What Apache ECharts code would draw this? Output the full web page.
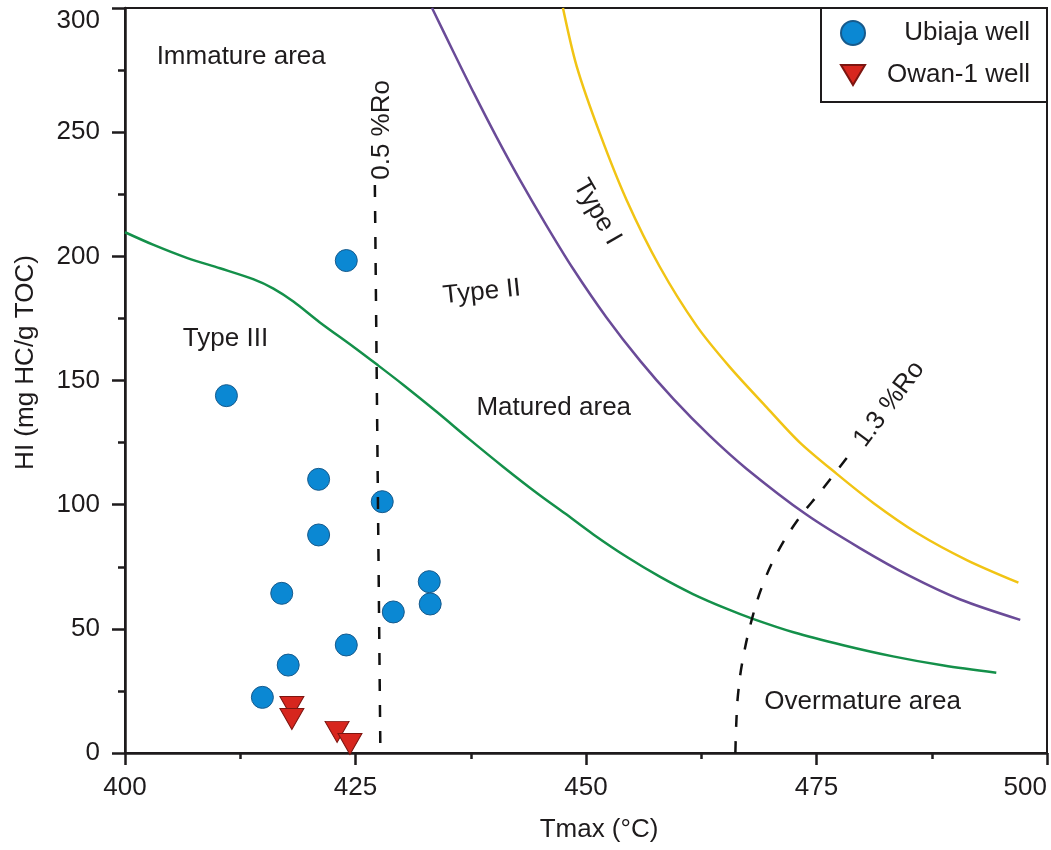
<!DOCTYPE html>
<html>
<head>
<meta charset="utf-8">
<script src="https://cdn.jsdelivr.net/npm/echarts@6/dist/echarts.min.js"></script>
<style>
html,body{margin:0;padding:0;background:#fff;}
#chart{width:1051px;height:850px;}
</style>
</head>
<body>
<div id="chart"></div>
<script>
// ---- Data ----
var xTicks = [400, 425, 450, 475, 500];
var yTicks = [0, 50, 100, 150, 200, 250, 300];

var ubiajaWell = [
  [424.0, 198.3], [411.0, 143.9], [421.0, 110.2], [427.9, 101.2],
  [421.0, 87.8], [417.0, 64.3], [433.0, 69.0], [433.1, 60.0],
  [429.1, 56.8], [424.0, 43.5], [417.7, 35.4], [414.9, 22.4]
];
var owanWell = [
  [418.1, 18.5], [418.1, 13.7], [423.0, 8.5], [424.4, 3.6]
];

// Type III / maturity boundary (green)
var greenCurve = [
  [400.0, 209.7], [403.1, 204.6], [406.7, 199.4], [410.3, 195.2], [413.9, 190.8],
  [416.1, 187.0], [418.3, 181.7], [421.1, 173.5], [424.8, 163.5], [427.3, 156.5],
  [430.2, 148.2], [433.8, 137.4], [437.4, 126.2], [441.0, 115.3], [444.7, 104.6],
  [447.7, 96.5], [450.8, 88.0], [454.4, 79.0], [458.0, 71.0], [461.6, 64.0],
  [465.3, 58.0], [468.1, 54.0], [472.5, 48.6], [477.9, 43.4], [483.3, 38.9],
  [488.8, 35.2], [494.5, 32.3]
];
// Type II / Type I boundary (purple)
var purpleCurve = [
  [433.3, 300.0], [435.6, 282.5], [437.8, 266.0], [440.3, 248.0], [442.8, 231.0],
  [445.7, 212.5], [448.6, 195.0], [452.2, 175.5], [455.9, 157.8], [459.5, 142.5],
  [463.4, 127.8], [467.4, 114.5], [473.9, 96.0], [479.7, 82.5], [485.1, 71.3],
  [490.6, 61.8], [497.1, 53.6]
];
// Type I (yellow)
var yellowCurve = [
  [447.5, 300.0], [449.0, 276.4], [451.5, 249.5], [454.4, 222.7], [458.0, 195.8],
  [462.0, 172.0], [465.6, 155.4], [469.6, 139.2], [473.2, 125.0], [477.2, 112.4],
  [481.2, 100.6], [485.9, 88.6], [491.3, 77.7], [496.9, 68.6]
];
// 0.5 %Ro (dashed)
var ro05 = [[427.1, 228.7], [427.7, 0]];
// 1.3 %Ro (dashed)
var ro13 = [
  [466.2, 0], [466.3, 12], [466.5, 24], [467.0, 37.5], [468.0, 54.0],
  [469.2, 68.0], [470.8, 81.0], [473.0, 94.0], [475.6, 106.0], [478.8, 121.3]
];

// Annotations: [x, y, text, rotation in degrees]
var annotations = [
  [412.6, 280.3, 'Immature area', 0],
  [410.9, 166.7, 'Type III', 0],
  [438.7, 185.6, 'Type II', 6],
  [451.2, 217.9, 'Type I', -60],
  [446.5, 139.0, 'Matured area', 0],
  [480.0, 20.5, 'Overmature area', 0],
  [427.9, 250.9, '0.5 %Ro', 90],
  [482.9, 140.5, '1.3 %Ro', 53]
];

// ---- Chart ----
var FONT = '"Liberation Sans", Arial, Helvetica, sans-serif';
var TXT = '#1e1b1c';
var chart = echarts.init(document.getElementById('chart'));

chart.setOption({
  animation: false,
  backgroundColor: '#fff',
  textStyle: { fontFamily: FONT, color: TXT },
  grid: {
    left: 125, right: 4, top: 8, bottom: 97,
    show: true, borderColor: TXT, borderWidth: 2, backgroundColor: 'transparent'
  },
  legend: {
    data: [
      { name: 'Ubiaja well', icon: 'circle' },
      { name: 'Owan-1 well', icon: 'path://M0,0 L24,0 L12,20 Z' }
    ],
    orient: 'vertical',
    right: 4, top: 8,
    padding: [12, 17, 14, 19],
    itemGap: 16,
    itemWidth: 24, itemHeight: 24,
    borderColor: TXT, borderWidth: 2,
    backgroundColor: '#fff',
    selectedMode: false,
    formatter: function (n) { return '{t|' + n + '}'; },
    textStyle: {
      fontFamily: FONT, fontSize: 26, color: TXT,
      rich: { t: { width: 160, align: 'right', fontSize: 26, fontFamily: FONT, color: TXT } }
    }
  },
  xAxis: {
    type: 'value', min: xTicks[0], max: xTicks[xTicks.length - 1], interval: 25,
    name: 'Tmax (°C)', nameLocation: 'middle', nameGap: 64,
    nameTextStyle: { fontSize: 26, color: TXT, fontFamily: FONT, padding: [0, 0, 0, 26] },
    axisLine: { show: true, onZero: false, lineStyle: { color: TXT, width: 2.5 } },
    axisTick: { show: true, length: 12, lineStyle: { color: TXT, width: 2.5 } },
    minorTick: { show: true, splitNumber: 2, length: 6, lineStyle: { color: TXT, width: 2.5 } },
    axisLabel: { fontSize: 26, color: TXT, margin: 22, fontFamily: FONT, alignMaxLabel: 'right' },
    splitLine: { show: false }
  },
  yAxis: {
    type: 'value', min: yTicks[0], max: yTicks[yTicks.length - 1], interval: 50,
    name: 'HI (mg HC/g TOC)', nameLocation: 'middle', nameGap: 86,
    nameTextStyle: { fontSize: 26, color: TXT, fontFamily: FONT, padding: [0, 0, 0, 36] },
    axisLine: { show: true, onZero: false, lineStyle: { color: TXT, width: 2.5 } },
    axisTick: { show: true, length: 13, lineStyle: { color: TXT, width: 2.5 } },
    minorTick: { show: true, splitNumber: 2, length: 7, lineStyle: { color: TXT, width: 2.5 } },
    axisLabel: { fontSize: 26, color: TXT, margin: 25, fontFamily: FONT, verticalAlignMaxLabel: 'top' },
    splitLine: { show: false }
  },
  series: [
    {
      name: 'green', type: 'line', data: greenCurve, smooth: 0.3, showSymbol: false,
      lineStyle: { color: '#14904a', width: 2.5 }, silent: true, z: 1
    },
    {
      name: 'purple', type: 'line', data: purpleCurve, smooth: 0.3, showSymbol: false,
      lineStyle: { color: '#6a4b98', width: 2.5 }, silent: true, z: 1
    },
    {
      name: 'yellow', type: 'line', data: yellowCurve, smooth: 0.3, showSymbol: false,
      lineStyle: { color: '#f1c414', width: 2.5 }, silent: true, z: 1
    },
    {
      name: 'Ubiaja well', type: 'scatter', data: ubiajaWell, symbol: 'circle', symbolSize: 22,
      itemStyle: { color: '#0b88d3', borderColor: '#175a8c', borderWidth: 1, opacity: 1 }, z: 2
    },
    {
      name: 'Owan-1 well', type: 'scatter', data: owanWell, symbol: 'triangle',
      symbolSize: [24, 21], symbolRotate: 180,
      itemStyle: { color: '#d7261e', borderColor: '#7d1510', borderWidth: 1, opacity: 1 }, z: 2
    },
    {
      name: 'ro05', type: 'line', data: ro05, showSymbol: false, silent: true,
      lineStyle: { color: '#111', width: 2.5, type: [12, 14] }, z: 3
    },
    {
      name: 'ro13', type: 'line', data: ro13, smooth: 0.4, showSymbol: false, silent: true,
      lineStyle: { color: '#111', width: 2.5, type: [12, 14] }, z: 3
    },
    {
      name: 'labels', type: 'scatter', symbolSize: 0, silent: true, z: 4,
      itemStyle: { color: TXT, opacity: 1 },
      data: annotations.map(function (a) {
        return {
          value: [a[0], a[1]],
          label: {
            show: true, position: 'inside', formatter: a[2], rotate: a[3],
            fontSize: 26, color: TXT, fontFamily: FONT, align: 'center', verticalAlign: 'middle',
            textBorderWidth: 0, textShadowBlur: 0, opacity: 1
          }
        };
      })
    }
  ]
});
</script>
</body>
</html>
